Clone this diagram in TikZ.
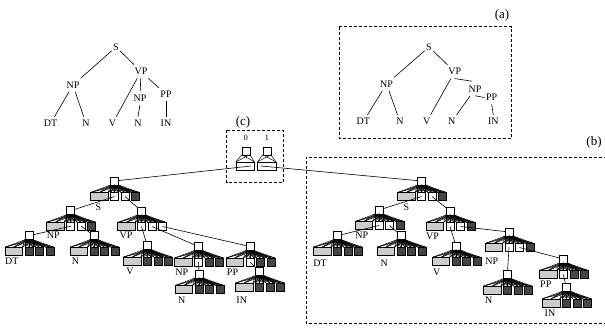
\documentclass[tikz,border=0pt]{standalone}
\usepackage{fontspec}
\setmainfont{Liberation Serif}
\definecolor{dkbox}{gray}{0.27}
\definecolor{ltbox}{gray}{0.80}
\newcommand\myunit[6]{%
  \node[topsq] (#1) at ({#2+4},{#3+4}) {};
  \node[graybx] (#1-g) at ({#2-11.25},{#3+19.5}) {};
  \node[sqbx,fill=#4] (#1-a) at ({#2+4},{#3+19.5}) {};
  \node[sqbx,fill=#5] (#1-b) at ({#2+14.5},{#3+19.5}) {};
  \node[sqbx,fill=#6] (#1-c) at ({#2+25},{#3+19.5}) {};
  \foreach \ua in {south west,south,south east}{%
    \foreach \ub in {g,a,b,c}{%
      \draw[fan] (#1.\ua) -- (#1-\ub.north west);
      \draw[fan] (#1.\ua) -- (#1-\ub.north);
      \draw[fan] (#1.\ua) -- (#1-\ub.north east);
    }%
  }%
}
\begin{document}
\begin{tikzpicture}[x=1pt,y=-1pt,
  every node/.style={inner sep=0pt, outer sep=0pt},
  lab/.style={font=\fontsize{10}{12}\selectfont},
  tlab/.style={font=\fontsize{10}{12}\selectfont, inner xsep=1.5pt, inner ysep=3.5pt},
  big/.style={font=\fontsize{13}{15}\selectfont},
  small/.style={font=\fontsize{8}{9}\selectfont},
  tedge/.style={line width=0.6pt},
  conn/.style={line width=0.6pt},
  fan/.style={line width=0.45pt},
  dbox/.style={line width=0.7pt, dash pattern=on 3pt off 2pt},
  topsq/.style={draw, fill=white, minimum size=8pt, line width=0.5pt},
  sqbx/.style={draw, minimum size=8pt, line width=0.5pt},
  graybx/.style={draw, fill=ltbox, minimum width=17.5pt, minimum height=8pt, line width=0.5pt},
  crect/.style={draw, fill=white, minimum width=18.5pt, minimum height=8pt, line width=0.5pt},
]
\useasboundingbox (0,0) rectangle (605,327);

% ---------- plain tree (top left) ----------
\node[tlab] (tS)   at (116,47)    {S};
\node[tlab] (tNP)  at (73,85)     {NP};
\node[tlab] (tVP)  at (141,71.5)  {VP};
\node[tlab] (tNPx) at (140,98)    {NP};
\node[tlab] (tPP)  at (166,94.5)  {PP};
\node[tlab] (tDT)  at (50.5,123.5){DT};
\node[tlab] (tN)   at (86,123.5)  {N};
\node[tlab] (tV)   at (112.5,123.5){V};
\node[tlab] (tNx)  at (138,123.5) {N};
\node[tlab] (tIN)  at (166,123.5) {IN};
\draw[tedge] (tS) -- (tNP);
\draw[tedge] (tS) -- (tVP);
\draw[tedge] (tNP) -- (tDT);
\draw[tedge] (tNP) -- (tN);
\draw[tedge] (tVP) -- (tV);
\draw[tedge] (tVP) -- (tNPx);
\draw[tedge] (tVP) -- (tPP);
\draw[tedge] (tNPx.south) -- (tNx.north);
\draw[tedge] (tPP.south) -- (tIN.north);

% ---------- tree (a) ----------
\draw[dbox] (339.3,26.7) rectangle (511.7,138.3);
\node[big] (la) at (502,15) {(a)};
\node[tlab] (aS)   at (429,47)    {S};
\node[tlab] (aNP)  at (386.5,84)  {NP};
\node[tlab] (aVP)  at (454.7,71.7){VP};
\node[tlab] (aNPx) at (475,89)    {NP};
\node[tlab] (aPP)  at (491.7,97.5){PP};
\node[tlab] (aDT)  at (363.3,121.7){DT};
\node[tlab] (aN)   at (400,121.7) {N};
\node[tlab] (aV)   at (426.7,121.7){V};
\node[tlab] (aNx)  at (451.7,121.7){N};
\node[tlab] (aIN)  at (493.3,121.7){IN};
\draw[tedge] (aS) -- (aNP);
\draw[tedge] (aS) -- (aVP);
\draw[tedge] (aNP) -- (aDT);
\draw[tedge] (aNP) -- (aN);
\draw[tedge] (aVP) -- (aV);
\draw[tedge] (aVP.south) -- ([xshift=-3pt,yshift=1pt]aNPx.north);
\draw[tedge] (aNPx) -- (aNx);
\draw[tedge] (aNPx.south) -- (aPP.west);
\draw[tedge] (aPP.south) -- (aIN.north);

% ---------- box (b) ----------
\draw[dbox] (607,157) -| (306,323.5) -- (607,323.5);
\node[big] (lb) at (594,142.5) {(b)};

% ---------- box (c) ----------
\draw[dbox] (226.7,130) rectangle (283.3,182.7);
\node[big] (lc) at (243,122) {(c)};
\node[topsq] (c0) at (245.8,150.8) {};
\node[topsq] (c1) at (266.8,150.8) {};
\node[crect] (c0r) at (245.2,165.8) {};
\node[crect] (c1r) at (266.7,165.8) {};
\foreach \ua in {c0,c1}{%
  \draw[fan] (\ua.south west) -- (\ua r.north west);
  \draw[fan] (\ua.south west) -- (\ua r.north east);
  \draw[fan] (\ua.south east) -- (\ua r.north west);
  \draw[fan] (\ua.south east) -- (\ua r.north east);
}
\node[small] (c0l) at (245.8,137.5) {0};
\node[small] (c1l) at (266.8,137.5) {1};
\coordinate (c0end) at (251,166);
\coordinate (c1end) at (261,166);

% ---------- left unit tree ----------
\myunit{LS}{110.5}{177}{white}{white}{dkbox}
\myunit{LNP}{66.7}{206.7}{white}{white}{dkbox}
\myunit{LVP}{137.5}{207}{white}{white}{white}
\myunit{LDT}{25}{231.7}{dkbox}{dkbox}{dkbox}
\myunit{LN}{90}{231.7}{dkbox}{dkbox}{dkbox}
\myunit{LV}{143.3}{241.7}{dkbox}{dkbox}{dkbox}
\myunit{LNPx}{194.5}{242.5}{white}{dkbox}{dkbox}
\myunit{LPP}{246}{242.5}{white}{dkbox}{dkbox}
\myunit{LNx}{195}{270}{dkbox}{dkbox}{dkbox}
\myunit{LIN}{255.5}{267.5}{dkbox}{dkbox}{dkbox}
\draw[conn] (LS-a.center) -- (LNP);
\draw[conn] (LS-b.center) -- (LVP);
\draw[conn] (LNP-a.center) -- (LDT);
\draw[conn] (LNP-b.center) -- (LN);
\draw[conn] (LVP-a.center) -- (LV);
\draw[conn] (LVP-b.center) -- (LNPx);
\draw[conn] (LVP-c.center) -- (LPP);
\draw[conn] (LNPx-a.center) -- (LNx);
\draw[conn] (LPP-a.center) -- (LIN);
\node[lab] (lLS)   at (98.3,207.3) {S};
\node[lab] (lLNP)  at (53.3,235)   {NP};
\node[lab] (lLVP)  at (126,235)    {VP};
\node[lab] (lLDT)  at (11.7,261.7) {DT};
\node[lab] (lLN)   at (75.5,261.7) {N};
\node[lab] (lLV)   at (130,271.7)  {V};
\node[lab] (lLNPx) at (181.7,272.3){NP};
\node[lab] (lLPP)  at (232.5,272.3){PP};
\node[lab] (lLNx)  at (181.7,300)  {N};
\node[lab] (lLIN)  at (241.7,300)  {IN};

% ---------- right unit tree ----------
\myunit{RS}{417.5}{177}{white}{white}{dkbox}
\myunit{RNP}{375}{206}{white}{white}{dkbox}
\myunit{RVP}{446}{207}{white}{white}{dkbox}
\myunit{RDT}{333.3}{231.7}{dkbox}{dkbox}{dkbox}
\myunit{RN}{397}{231.7}{dkbox}{dkbox}{dkbox}
\myunit{RV}{452}{242}{dkbox}{dkbox}{dkbox}
\myunit{RNPx}{505}{228}{white}{white}{dkbox}
\myunit{RPP}{559.3}{255}{white}{dkbox}{dkbox}
\myunit{RNx}{503.3}{270.7}{dkbox}{dkbox}{dkbox}
\myunit{RIN}{562.3}{283.3}{dkbox}{dkbox}{dkbox}
\draw[conn] (RS-a.center) -- (RNP);
\draw[conn] (RS-b.center) -- (RVP);
\draw[conn] (RNP-a.center) -- (RDT);
\draw[conn] (RNP-b.center) -- (RN);
\draw[conn] (RVP-a.center) -- (RV);
\draw[conn] (RVP-b.center) -- (RNPx);
\draw[conn] (RNPx-a.center) -- (RNx);
\draw[conn] (RNPx-b.center) -- (RPP);
\draw[conn] (RPP-a.center) -- (RIN);
\node[lab] (lRS)   at (406.3,207.3){S};
\node[lab] (lRNP)  at (361.7,235.5){NP};
\node[lab] (lRVP)  at (432.5,236)  {VP};
\node[lab] (lRDT)  at (320,263.3)  {DT};
\node[lab] (lRN)   at (384.2,263.3){N};
\node[lab] (lRV)   at (436.7,272.7){V};
\node[lab] (lRNPx) at (491.7,261.7){NP};
\node[lab] (lRPP)  at (545.8,284)  {PP};
\node[lab] (lRNx)  at (488.8,300.3){N};
\node[lab] (lRIN)  at (550,313.3)  {IN};

% ---------- links from (c) ----------
\draw[conn] (LS) -- (c0end);
\draw[conn] (RS) -- (c1end);
\end{tikzpicture}
\end{document}
